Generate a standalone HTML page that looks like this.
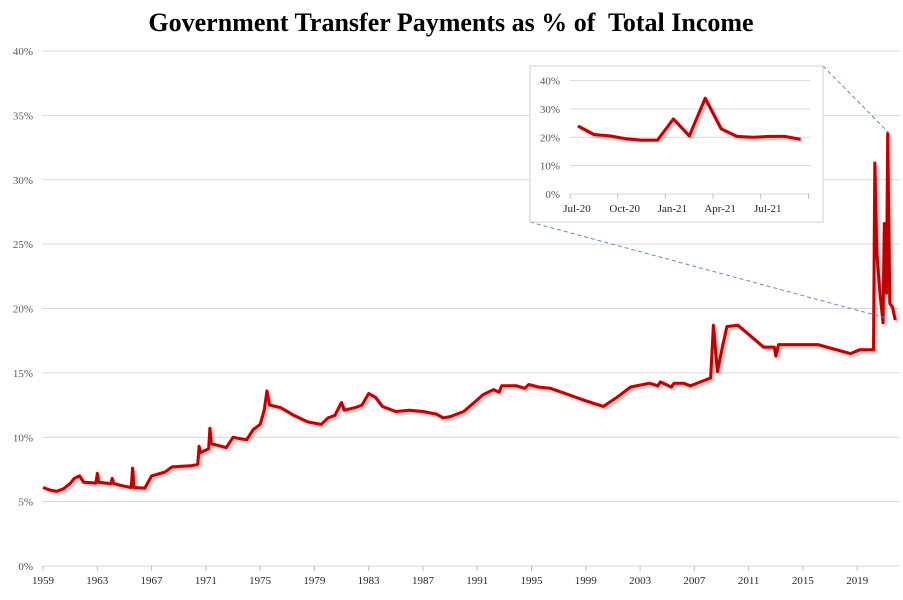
<!DOCTYPE html>
<html><head><meta charset="utf-8">
<style>
body{margin:0;background:#fff;}
svg{display:block;font-family:"Liberation Serif",serif;}
</style></head>
<body>
<svg id="chart" width="903" height="600" xmlns="http://www.w3.org/2000/svg">
<defs>
<filter id="sh" x="-5%" y="-5%" width="110%" height="110%"><feDropShadow dx="2" dy="2" stdDeviation="1.2" flood-color="#000" flood-opacity="0.3"/></filter>
</defs>
<text x="451" y="31" text-anchor="middle" font-size="26" font-weight="bold" fill="#000" style="white-space:pre">Government Transfer Payments as % of  Total Income</text>
<g id="grid"></g>
<g id="yt"></g>
<g id="xt"></g>
<path id="main" fill="none" stroke="#c00000" stroke-width="3" stroke-linejoin="round" filter="url(#sh)"/>
<line x1="823" y1="66" x2="889" y2="133" stroke="#5b8bd0" stroke-width="1" stroke-dasharray="4,3"/>
<line x1="530" y1="222" x2="886" y2="318" stroke="#5b8bd0" stroke-width="1" stroke-dasharray="4,3"/>
<g id="inset">
<rect x="530" y="66" width="293" height="156" fill="#fff" stroke="#d0d0d0"/>
<g id="igrid"></g>
<path id="ipath" fill="none" stroke="#c00000" stroke-width="3" stroke-linejoin="round" filter="url(#sh)"/>
</g>
</svg>
<script>
const years=[1959,1959.5,1960,1960.5,1961,1961.3,1961.7,1962,1962.9,1963.0,1963.1,1964,1964.1,1964.2,1965,1965.5,1965.6,1965.7,1966.5,1967,1968,1968.5,1970,1970.4,1970.5,1970.6,1971,1971.2,1971.3,1971.4,1972.5,1973,1974,1974.5,1975,1975.3,1975.5,1975.7,1976.5,1977.5,1978.5,1979.5,1980,1980.5,1981,1981.2,1982,1982.5,1983,1983.5,1984,1985,1986,1987,1988,1988.5,1989,1990,1991,1991.4,1992.2,1992.6,1992.8,1993.9,1994.5,1994.8,1995.5,1996.4,1997.5,1998.8,2000.3,2001.3,2002.3,2003.7,2004.3,2004.5,2005.3,2005.5,2006.2,2006.7,2008.2,2008.4,2008.7,2009.1,2009.4,2010.2,2011.1,2012.1,2012.9,2013.0,2013.2,2016.1,2018.5,2019.2,2020.2,2020.3,2020.45,2020.7,2020.9,2021.0,2021.15,2021.25,2021.4,2021.6,2021.8];
const values=[6.1,5.9,5.8,6.0,6.4,6.8,7.0,6.5,6.45,7.2,6.5,6.4,6.8,6.4,6.2,6.1,7.6,6.1,6.05,7.0,7.3,7.7,7.8,7.9,9.3,8.8,9.0,9.1,10.7,9.5,9.2,10.0,9.8,10.6,11.0,12.1,13.6,12.5,12.3,11.7,11.2,11.0,11.5,11.7,12.7,12.1,12.3,12.5,13.4,13.1,12.4,12.0,12.1,12.0,11.8,11.5,11.6,12.0,12.9,13.3,13.7,13.5,14.0,14.0,13.8,14.1,13.9,13.8,13.4,12.9,12.4,13.1,13.9,14.2,14.0,14.3,13.9,14.2,14.2,14.0,14.6,18.7,15.1,17.2,18.6,18.7,17.9,17.0,17.0,16.3,17.2,17.2,16.5,16.8,16.8,31.3,24.2,20.9,18.9,26.6,21.2,33.6,20.4,20.1,19.1];
const yTicks=[0,5,10,15,20,25,30,35,40];
const xTicks=[1959,1963,1967,1971,1975,1979,1983,1987,1991,1995,1999,2003,2007,2011,2015,2019];
const insetMonths=[0,1,2,3,4,5,6,7,8,9,10,11,12,13,14];
const insetValues=[24,21,20.5,19.5,19,19,26.5,20.5,33.8,23,20.3,20,20.3,20.3,19.3];
const insetYTicks=[0,10,20,30,40];
const insetXLabels=["Jul-20","Oct-20","Jan-21","Apr-21","Jul-21"];
const insetXLabelMonths=[0,3,6,9,12];

const NS="http://www.w3.org/2000/svg";
const X=y=>43+(y-1959)*13.57;
const Y=v=>566-v*12.875;
const IX=m=>578+m*15.9;
const IY=v=>194-v*2.835;
function mk(tag,attrs,parent,txt){const e=document.createElementNS(NS,tag);for(const k in attrs)e.setAttribute(k,attrs[k]);if(txt!==undefined)e.textContent=txt;parent.appendChild(e);return e;}
const grid=document.getElementById('grid'),yt=document.getElementById('yt'),xt=document.getElementById('xt');
yTicks.forEach(v=>{
  const l=mk('line',{x1:42,x2:900,y1:Y(v),y2:Y(v),stroke:'#d9d9d9','stroke-width':1},grid);
  
  
  const t=mk('text',{x:33,y:Y(v)+4,'text-anchor':'end','font-size':11,fill:'#595959'},yt,v+'%');
  
  
});
xTicks.forEach(y=>{
  const tk=mk('line',{x1:X(y),x2:X(y),y1:566,y2:571,stroke:'#bfbfbf'},grid);
  
  
  const t=mk('text',{x:X(y),y:584,'text-anchor':'middle','font-size':11,fill:'#262626'},xt,String(y));
  
  
});
document.getElementById('main').setAttribute('d',years.map((y,i)=>(i?'L':'M')+X(y).toFixed(1)+','+Y(values[i]).toFixed(1)).join(''));
const ig=document.getElementById('igrid');
insetYTicks.forEach(v=>{
  const l=mk('line',{x1:570,x2:810,y1:IY(v),y2:IY(v),stroke:'#d9d9d9'},ig);
  
  
  const t=mk('text',{x:560,y:IY(v)+4,'text-anchor':'end','font-size':11,fill:'#595959'},ig,v+'%');
  
  
});
[0,3,6,9,12,15].forEach(m=>{
  const x=570+m*15.9;
  const tk=mk('line',{x1:x,x2:x,y1:194,y2:199,stroke:'#bfbfbf'},ig);
  
  
});
insetXLabels.forEach((s,i)=>{
  const t=mk('text',{x:IX(insetXLabelMonths[i])-1,y:212,'text-anchor':'middle','font-size':11,fill:'#262626'},ig,s);
  
  
});
document.getElementById('ipath').setAttribute('d',insetMonths.map((m,i)=>(i?'L':'M')+IX(m).toFixed(1)+','+IY(insetValues[i]).toFixed(1)).join(''));
</script>
</body></html>
